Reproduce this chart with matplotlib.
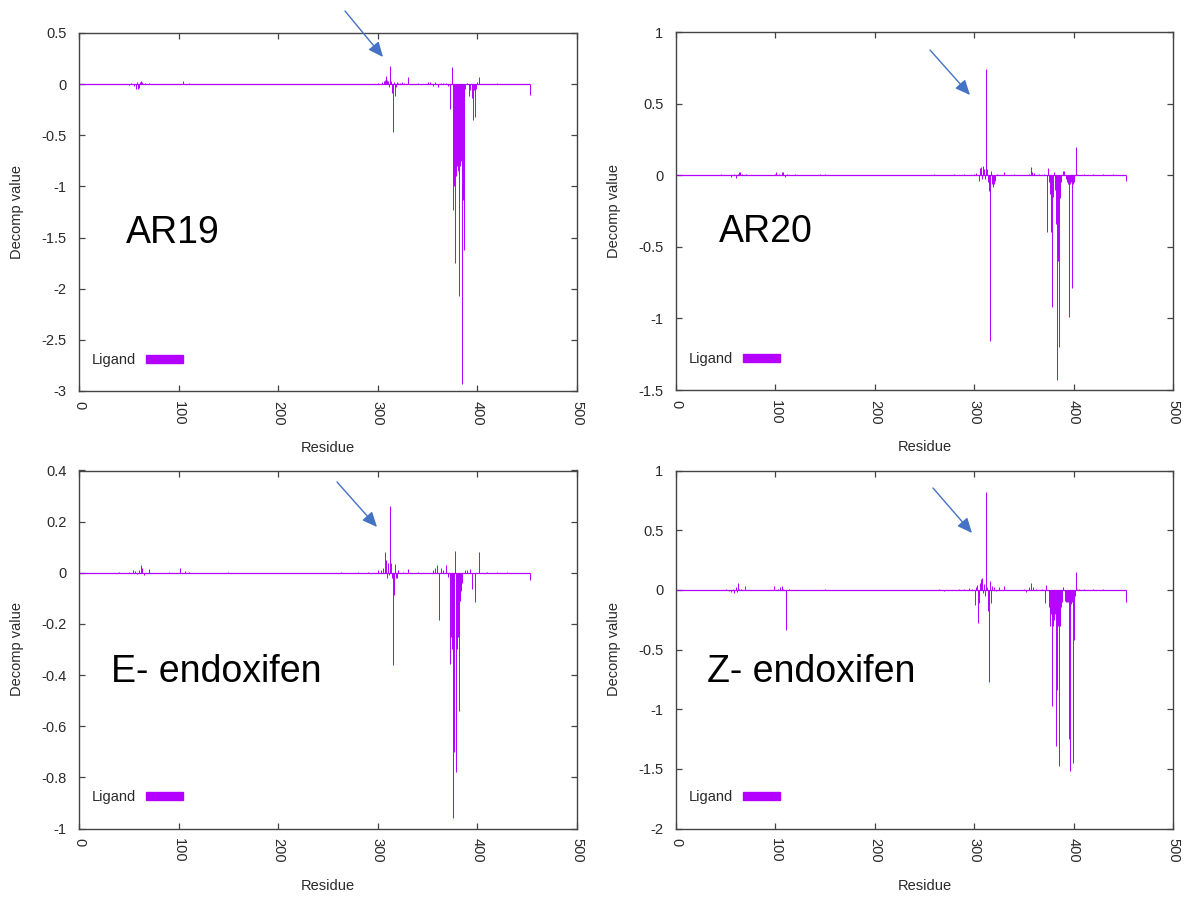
import matplotlib
matplotlib.use('Agg')
import matplotlib.pyplot as plt
from matplotlib.ticker import MultipleLocator, FuncFormatter
from matplotlib.patches import Patch

plt.rcParams['font.family'] = ['Liberation Sans', 'DejaVu Sans']

# ---------------- data ----------------
RES_FIRST, RES_LAST = 1, 453
X_TICKS = [0, 100, 200, 300, 400, 500]

AR19_RES = [50, 52, 55, 57, 58, 59, 60, 61, 62, 63, 66, 70, 85, 104, 110, 265, 300, 304, 306, 307,
            308, 309, 310, 311, 312, 313, 314, 315, 316, 317, 318, 319, 320, 322, 324, 326, 330, 340,
            350, 352, 355, 357, 360, 363, 365, 368, 370, 372, 374, 375, 376, 377, 378, 379, 380, 381,
            382, 383, 384, 385, 386, 387, 388, 390, 392, 393, 395, 396, 397, 398, 399, 400, 402, 410,
            420, 433, 453]
AR19_VAL = [-0.01, 0.01, -0.02, -0.05, 0.02, -0.05, -0.04, 0.02, 0.03, 0.02, 0.01, 0.01, 0.005, 0.035,
            0.01, 0.005, 0.01, 0.02, 0.03, 0.04, 0.075, 0.04, 0.03, -0.03, 0.18, 0.03, -0.09, -0.47,
            0.02, -0.12, -0.03, 0.02, 0.01, 0.015, 0.02, 0.01, 0.07, 0.01, 0.02, 0.02, -0.02, 0.02,
            -0.03, 0.015, 0.01, 0.01, -0.02, -0.24, 0.17, -0.03, -1.23, -1.0, -1.75, -0.9, -0.8, -0.85,
            -2.07, -0.8, -0.75, -2.93, -1.13, -1.62, -0.05, 0.01, -0.12, -0.06, -0.14, -0.35, -0.06,
            -0.32, -0.05, 0.02, 0.07, 0.005, 0.01, 0.005, -0.11]

AR20_RES = [20, 45, 55, 58, 60, 62, 63, 64, 66, 70, 100, 101, 104, 107, 108, 110, 112, 120, 145, 150,
            160, 180, 230, 260, 280, 290, 300, 302, 305, 306, 307, 308, 309, 310, 311, 312, 313, 314,
            315, 316, 317, 318, 319, 320, 321, 323, 330, 340, 355, 357, 358, 360, 365, 370, 373, 374,
            375, 376, 377, 378, 379, 380, 381, 382, 383, 384, 385, 386, 387, 389, 390, 392, 393, 394,
            395, 396, 397, 398, 399, 400, 402, 403, 410, 420, 430, 440, 453]
AR20_VAL = [0.003, 0.005, -0.01, 0.01, -0.02, 0.01, 0.025, 0.02, 0.01, 0.01, 0.01, 0.025, 0.01, 0.02,
            0.025, -0.01, 0.01, 0.005, 0.005, 0.005, 0.003, 0.003, 0.003, 0.005, 0.005, 0.01, 0.01,
            0.015, -0.04, 0.05, 0.06, -0.03, 0.065, 0.04, -0.03, 0.74, 0.04, -0.05, -0.11, -1.16, 0.03,
            -0.06, -0.08, -0.06, -0.04, 0.01, 0.02, 0.005, 0.01, 0.06, 0.02, 0.015, 0.01, 0.005, -0.40,
            0.05, -0.05, -0.13, -0.40, -0.92, -0.15, 0.02, -0.10, -0.34, -1.43, -0.60, -1.20, -0.16,
            -0.05, 0.03, 0.03, -0.03, -0.05, -0.06, -0.99, -0.06, -0.05, -0.79, -0.06, -0.05, 0.20,
            0.01, 0.01, 0.005, 0.005, 0.005, -0.04]

EEND_RES = [40, 50, 54, 56, 58, 60, 62, 63, 65, 70, 90, 101, 106, 110, 150, 263, 280, 290, 300, 303,
            305, 307, 308, 309, 310, 311, 312, 313, 314, 315, 316, 317, 318, 319, 320, 325, 330, 340,
            355, 357, 359, 361, 363, 365, 368, 370, 372, 373, 374, 375, 376, 377, 378, 379, 380, 381,
            382, 383, 384, 385, 388, 390, 393, 395, 398, 402, 410, 420, 430, 453]
EEND_VAL = [0.003, 0.005, 0.01, 0.008, -0.005, 0.01, 0.03, 0.02, -0.01, 0.015, 0.003, 0.018, 0.008,
            0.005, 0.003, 0.003, 0.004, 0.005, 0.01, 0.01, 0.02, 0.08, 0.05, -0.02, 0.04, -0.01, 0.263,
            0.04, -0.02, -0.36, -0.087, 0.035, -0.02, -0.02, 0.01, 0.005, 0.015, 0.005, 0.01, 0.02,
            0.03, -0.185, 0.02, 0.01, 0.03, -0.015, -0.355, -0.25, -0.30, -0.96, -0.67, -0.70, 0.085,
            -0.78, -0.30, -0.25, -0.54, -0.11, -0.07, -0.04, 0.01, 0.01, 0.014, -0.065, -0.113, 0.083,
            0.005, 0.004, 0.004, -0.03]

ZEND_RES = [50, 53, 55, 57, 58, 60, 61, 62, 63, 65, 69, 99, 103, 105, 107, 108, 111, 114, 150, 155,
            265, 270, 285, 290, 295, 298, 301, 302, 303, 304, 305, 306, 307, 308, 309, 310, 311, 312,
            313, 314, 315, 316, 317, 318, 320, 322, 325, 330, 350, 352, 355, 357, 359, 362, 368, 371,
            372, 375, 376, 377, 378, 379, 380, 381, 382, 383, 384, 385, 386, 387, 388, 389, 391, 392,
            393, 394, 395, 396, 397, 398, 399, 400, 401, 402, 403, 405, 410, 420, 430, 453]
ZEND_VAL = [0.005, -0.01, -0.02, 0.01, -0.03, 0.02, -0.02, 0.055, 0.01, 0.01, 0.03, 0.035, 0.01, 0.02,
            0.035, 0.01, -0.34, 0.01, 0.005, -0.005, 0.005, -0.01, 0.005, 0.01, 0.015, 0.01, -0.13,
            0.02, 0.04, -0.28, -0.11, 0.06, 0.09, 0.10, -0.03, 0.05, -0.05, 0.82, 0.02, -0.18, -0.77,
            0.07, -0.11, 0.03, 0.02, -0.01, 0.02, 0.03, 0.01, -0.02, 0.02, 0.055, 0.02, 0.01, 0.01,
            -0.11, 0.04, -0.14, -0.30, -0.20, -0.97, -0.30, -0.25, -0.20, -1.31, -0.84, -0.30, -1.48,
            -0.30, -0.14, -0.10, 0.02, -0.09, -0.10, -0.10, -0.10, -1.25, -1.52, -0.12, -0.10, -1.45,
            -0.42, -0.05, 0.15, 0.01, 0.01, 0.01, 0.005, 0.005, -0.105]

PANELS = [
    dict(name='AR19', res=AR19_RES, val=AR19_VAL, ylim=(-3, 0.5), step=0.5),
    dict(name='AR20', res=AR20_RES, val=AR20_VAL, ylim=(-1.5, 1), step=0.5),
    dict(name='E- endoxifen', res=EEND_RES, val=EEND_VAL, ylim=(-1, 0.4), step=0.2),
    dict(name='Z- endoxifen', res=ZEND_RES, val=ZEND_VAL, ylim=(-2, 1), step=0.5),
]

# ---------------- layout / style ----------------
W, H = 1185, 899
BOXES = [(79, 577, 33, 391), (676, 1173, 32, 390), (79, 577, 470.5, 828.5), (676, 1173, 470.5, 828.5)]
LABEL_POS = [(0.094, 0.413), (0.0865, 0.413), (0.064, 0.409), (0.063, 0.409)]
ARROWS = [((345, 11), (383, 57)), ((930, 50), (970, 95)), ((337, 482), (377, 527)), ((933, 488), (972, 533))]

PURPLE = '#b300ff'
SPINE = '#444444'
TXT = '#2a2a2a'

fig = plt.figure(figsize=(W / 100, H / 100), dpi=100)
fmt = FuncFormatter(lambda v, _: f'{round(v, 6) + 0:g}')

for p, (l, r, t, b), (lx, ly), (tail, tip) in zip(PANELS, BOXES, LABEL_POS, ARROWS):
    ax = fig.add_axes([l / W, (H - b) / H, (r - l) / W, (b - t) / H])
    ax.hlines(0, RES_FIRST, RES_LAST, color=PURPLE, lw=0.9, zorder=2)
    ax.vlines(p['res'], 0, p['val'], color=PURPLE, lw=0.7, zorder=3)
    ax.set_xlim(0, 500)
    ax.set_ylim(*p['ylim'])
    ax.set_xticks(X_TICKS)
    ax.yaxis.set_major_locator(MultipleLocator(p['step']))
    ax.yaxis.set_major_formatter(fmt)
    ax.tick_params(direction='in', top=True, right=True, length=4.5, width=0.9,
                   colors=SPINE, labelcolor=TXT, labelsize=10.5)
    ax.tick_params(axis='x', pad=7, labelrotation=270)
    ax.tick_params(axis='y', pad=9)
    for lab in ax.get_xticklabels():
        lab.set_va('top')
        lab.set_ha('center')
    for s in ax.spines.values():
        s.set_color(SPINE)
        s.set_linewidth(1.0)
    ax.set_xlabel('Residue', fontsize=10.5, color=TXT)
    ax.set_ylabel('Decomp value', fontsize=10.5, color=TXT)
    ax.xaxis.set_label_coords(0.5, -0.14)
    ax.yaxis.set_label_coords(-0.110, 0.5)
    ax.text(lx, ly, p['name'], transform=ax.transAxes, fontsize=27, color='black', va='baseline', ha='left')
    leg = ax.legend(handles=[Patch(facecolor=PURPLE, edgecolor=PURPLE, label='Ligand')],
                    loc='center left', bbox_to_anchor=(0.025, 0.087), frameon=False, markerfirst=False,
                    handlelength=2.55, handleheight=0.48, handletextpad=0.7, borderpad=0,
                    borderaxespad=0, fontsize=10.5)
    for tx in leg.get_texts():
        tx.set_color(TXT)
    ax.annotate('', xy=(tip[0], H - tip[1]), xycoords='figure pixels',
                xytext=(tail[0], H - tail[1]), textcoords='figure pixels',
                arrowprops=dict(arrowstyle='-|>,head_length=0.9,head_width=0.4', color='#4472C4',
                                lw=1.0, shrinkA=0, shrinkB=0))

fig.savefig('out.png', dpi=100)
